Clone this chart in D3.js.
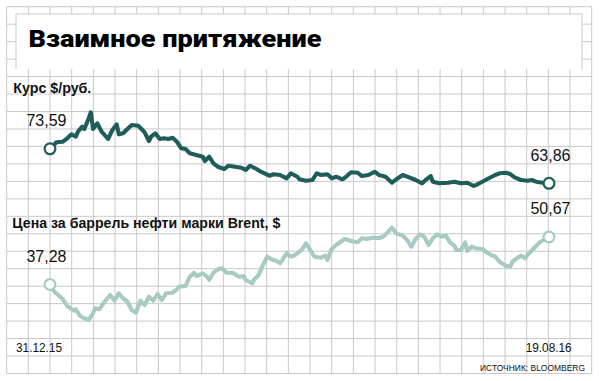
<!DOCTYPE html>
<html>
<head>
<meta charset="utf-8">
<script src="https://cdn.jsdelivr.net/npm/d3@7"></script>
<style>
  body { margin: 0; background: #fff; }
  svg { display: block; }
  text { font-family: "Liberation Sans", Arial, sans-serif; fill: #111; }
</style>
</head>
<body>
<svg width="599" height="381"></svg>
<script>
// курс доллара, руб.
var rubDates = ["2015-12-31","2016-01-03","2016-01-06","2016-01-08","2016-01-10","2016-01-12","2016-01-13","2016-01-15","2016-01-16","2016-01-18","2016-01-19","2016-01-20","2016-01-22","2016-01-24","2016-01-27","2016-01-29","2016-01-31","2016-02-01","2016-02-03","2016-02-05","2016-02-07","2016-02-10","2016-02-12","2016-02-13","2016-02-15","2016-02-16","2016-02-18","2016-02-20","2016-02-22","2016-02-24","2016-02-26","2016-02-28","2016-03-01","2016-03-03","2016-03-05","2016-03-08","2016-03-11","2016-03-12","2016-03-14","2016-03-16","2016-03-18","2016-03-21","2016-03-23","2016-03-26","2016-03-29","2016-03-31","2016-04-02","2016-04-05","2016-04-07","2016-04-11","2016-04-13","2016-04-16","2016-04-19","2016-04-21","2016-04-24","2016-04-25","2016-04-28","2016-05-01","2016-05-03","2016-05-05","2016-05-08","2016-05-10","2016-05-12","2016-05-15","2016-05-17","2016-05-19","2016-05-22","2016-05-24","2016-05-27","2016-05-30","2016-06-01","2016-06-04","2016-06-07","2016-06-09","2016-06-12","2016-06-15","2016-06-18","2016-06-21","2016-06-23","2016-06-25","2016-06-26","2016-06-29","2016-07-03","2016-07-06","2016-07-09","2016-07-12","2016-07-15","2016-07-17","2016-07-19","2016-07-22","2016-07-25","2016-07-27","2016-07-30","2016-08-01","2016-08-03","2016-08-06","2016-08-09","2016-08-11","2016-08-13","2016-08-16","2016-08-19"];
var rubValues = [73.59,75.42,75.59,76.55,77.68,77.00,78.41,79.82,79.17,82.19,83.88,79.17,80.78,78.41,76.35,78.89,80.50,77.68,77.96,79.17,80.30,80.10,78.89,78.24,75.79,77.00,77.96,76.35,76.55,76.35,76.72,75.59,73.73,73.53,72.32,71.84,71.36,70.15,71.36,69.50,68.54,67.89,68.82,68.54,68.26,67.61,68.82,67.89,67.13,66.00,66.40,66.20,65.27,66.68,65.72,64.99,64.59,64.79,66.68,66.20,66.40,65.27,65.72,64.99,65.92,66.96,66.85,65.92,66.20,67.13,66.20,65.72,64.03,64.99,66.20,65.55,64.79,63.86,64.99,65.92,64.31,63.86,64.03,64.31,63.86,64.03,63.10,63.66,64.31,65.27,66.20,66.68,66.85,66.48,65.55,64.79,64.59,64.79,64.31,64.03,63.86];

// Brent, $ за баррель
var oilDates = ["2015-12-31","2016-01-02","2016-01-05","2016-01-06","2016-01-08","2016-01-11","2016-01-12","2016-01-14","2016-01-16","2016-01-18","2016-01-20","2016-01-21","2016-01-23","2016-01-25","2016-01-28","2016-01-30","2016-02-01","2016-02-03","2016-02-05","2016-02-07","2016-02-09","2016-02-11","2016-02-13","2016-02-15","2016-02-17","2016-02-19","2016-02-21","2016-02-23","2016-02-26","2016-02-28","2016-02-29","2016-03-03","2016-03-05","2016-03-07","2016-03-08","2016-03-11","2016-03-13","2016-03-14","2016-03-16","2016-03-18","2016-03-20","2016-03-22","2016-03-25","2016-03-28","2016-03-30","2016-03-31","2016-04-03","2016-04-04","2016-04-06","2016-04-08","2016-04-10","2016-04-12","2016-04-14","2016-04-16","2016-04-19","2016-04-21","2016-04-23","2016-04-26","2016-04-28","2016-04-30","2016-05-02","2016-05-05","2016-05-07","2016-05-08","2016-05-10","2016-05-12","2016-05-16","2016-05-19","2016-05-22","2016-05-24","2016-05-26","2016-05-29","2016-06-01","2016-06-03","2016-06-05","2016-06-07","2016-06-09","2016-06-12","2016-06-14","2016-06-16","2016-06-18","2016-06-20","2016-06-22","2016-06-24","2016-06-26","2016-06-28","2016-06-30","2016-07-02","2016-07-04","2016-07-06","2016-07-07","2016-07-09","2016-07-11","2016-07-12","2016-07-14","2016-07-16","2016-07-19","2016-07-21","2016-07-23","2016-07-25","2016-07-27","2016-07-30","2016-08-01","2016-08-02","2016-08-04","2016-08-06","2016-08-08","2016-08-09","2016-08-12","2016-08-15","2016-08-19"];
var oilValues = [37.28,35.25,33.67,33.11,31.22,29.89,30.29,28.40,27.75,27.27,29.16,30.57,30.29,32.15,34.32,32.71,34.80,33.39,32.43,30.09,29.33,32.71,31.50,33.84,32.71,34.60,32.91,34.80,34.97,35.93,36.66,36.86,39.48,40.61,39.68,40.44,39.48,38.55,40.61,41.57,41.85,40.61,40.55,39.48,39.68,38.55,37.62,38.75,39.96,42.78,45.12,44.38,43.99,43.26,46.08,45.12,45.60,47.01,48.90,47.01,45.12,44.84,45.40,44.19,47.29,48.42,50.11,49.54,49.18,50.31,50.11,50.47,50.40,50.76,52.00,53.29,51.71,51.04,49.83,47.94,50.11,51.43,50.76,48.42,50.31,51.43,50.76,51.04,49.18,48.22,47.01,46.95,49.18,46.72,47.94,47.49,47.29,46.36,45.60,45.12,43.71,42.58,42.30,43.71,44.67,45.40,44.67,45.60,47.49,49.35,50.67];

var dateLabels = ["31.12.15", "19.08.16"];
var title = "Взаимное притяжение";
var rubTitle = "Курс $/руб.";
var oilTitle = "Цена за баррель нефти марки Brent, $";
var source = "ИСТОЧНИК: BLOOMBERG";

var rubColor = "#1f5d5a",
    oilColor = "#a8cac4",
    gridColor = "#c9c9c9";

var parseDate = d3.timeParse("%Y-%m-%d");
var fmt = function(v) { return d3.format(".2f")(v).replace(".", ","); };

var rubData = rubDates.map(function(d, i) { return { date: parseDate(d), value: rubValues[i] }; });
var oilData = oilDates.map(function(d, i) { return { date: parseDate(d), value: oilValues[i] }; });

var svg = d3.select("svg");

// клетка
var gridX = d3.scaleLinear().domain([0, 27]).range([6.7, 591.7]),
    gridY = d3.scaleLinear().domain([0, 21]).range([6.7, 373.5]);

var grid = svg.append("g").attr("stroke", gridColor).attr("stroke-width", 1);
grid.selectAll(".v").data(d3.range(28)).enter().append("line")
    .attr("x1", function(d) { return gridX(d); })
    .attr("x2", function(d) { return gridX(d); })
    .attr("y1", gridY(0)).attr("y2", gridY(21));
grid.selectAll(".h").data(d3.range(22)).enter().append("line")
    .attr("y1", function(d) { return gridY(d); })
    .attr("y2", function(d) { return gridY(d); })
    .attr("x1", gridX(0)).attr("x2", gridX(27));

// плашка заголовка
svg.append("rect")
    .attr("x", 16).attr("y", 14).attr("width", 566).attr("height", 55)
    .attr("fill", "#fff");
svg.append("path")
    .attr("d", "M16,69V14H582V69")
    .attr("fill", "none").attr("stroke", gridColor).attr("stroke-width", 1);

svg.append("text")
    .attr("x", 28.5).attr("y", 46.5)
    .attr("textLength", 293).attr("lengthAdjust", "spacingAndGlyphs")
    .style("font-family", "Roboto, 'Liberation Sans', sans-serif")
    .style("font-weight", 900).style("font-size", "24.5px").style("fill", "#000")
    .text(title);

// шкалы
var x = d3.scaleTime()
    .domain([parseDate("2015-12-31"), parseDate("2016-08-19")])
    .range([50, 549]);
var yRub = d3.scaleLinear().domain([60, 90]).range([197, 90.6]);
var yOil = d3.scaleLinear().domain([20, 60]).range([345.8, 203.9]);

function drawSeries(data, y, color) {
  var line = d3.line()
      .x(function(d) { return x(d.date); })
      .y(function(d) { return y(d.value); });

  svg.append("path")
      .datum(data)
      .attr("d", line)
      .attr("fill", "none")
      .attr("stroke", color)
      .attr("stroke-width", 4.1)
      .attr("stroke-linejoin", "round")
      .attr("stroke-linecap", "round");

  var ends = [data[0], data[data.length - 1]];
  svg.selectAll(null).data(ends).enter().append("circle")
      .attr("cx", function(d) { return x(d.date); })
      .attr("cy", function(d) { return y(d.value); })
      .attr("r", 5.4)
      .attr("fill", "#fff")
      .attr("stroke", color)
      .attr("stroke-width", 2.2);

  svg.selectAll(null).data(ends).enter().append("text")
      .attr("x", function(d, i) { return x(d.date) + (i ? 1.5 : -3.5); })
      .attr("y", function(d) { return y(d.value) - 22.5; })
      .attr("text-anchor", "middle")
      .style("font-size", "16px")
      .text(function(d) { return fmt(d.value); });
}

drawSeries(rubData, yRub, rubColor);
drawSeries(oilData, yOil, oilColor);

// подписи
function label(txt, xp, yp, size, len, weight) {
  svg.append("text")
      .attr("x", xp).attr("y", yp)
      .attr("textLength", len).attr("lengthAdjust", "spacingAndGlyphs")
      .style("font-size", size + "px")
      .style("font-weight", weight || "normal")
      .text(txt);
}

label(rubTitle, 13.3, 93.3, 14, 78, "bold");
label(oilTitle, 12.3, 228, 14, 268, "bold");
label(dateLabels[0], 16, 351.7, 13, 46);
label(dateLabels[1], 525.7, 351.7, 13, 46);
label(source, 480, 371, 9.6, 105);
</script>
</body>
</html>
